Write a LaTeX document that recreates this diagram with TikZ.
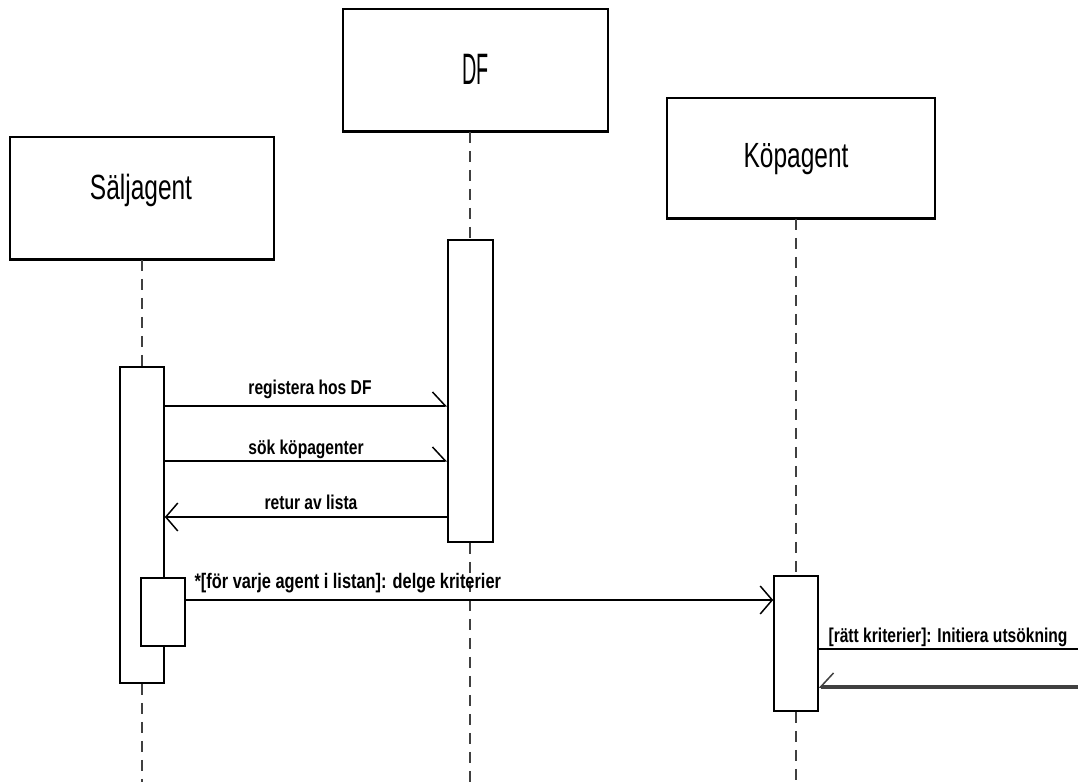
\documentclass[tikz,border=0pt]{standalone}
\usepackage{fontspec}
\setmainfont{Liberation Sans}
\newfontfamily\headfont{Liberation Sans}[FakeStretch=0.7]
\newfontfamily\dffont{Liberation Sans}[FakeStretch=0.45]
\newfontfamily\msgfont{Liberation Sans Bold}[FakeStretch=0.78]
\usetikzlibrary{arrows.meta,calc}

\begin{document}
\begin{tikzpicture}[x=1pt,y=1pt,
  objbox/.style={draw=black, line width=1.6pt, fill=white, inner sep=0pt},
  actbox/.style={draw=black, line width=1.6pt, fill=white, inner sep=0pt},
  lifeline/.style={draw=black!75, line width=2.2pt, dash pattern=on 11pt off 8pt},
  msg/.style={draw=black, line width=1.5pt},
  thickmsg/.style={draw=black!75, line width=4.5pt},
  headtext/.style={font=\headfont\fontsize{35}{40}\selectfont, inner sep=0pt},
  dftext/.style={font=\dffont\fontsize{44}{48}\selectfont, inner sep=0pt},
  msgtext/.style={font=\msgfont\fontsize{20}{24}\selectfont, inner sep=0pt},
  msgtextb/.style={font=\msgfont\fontsize{21}{24}\selectfont, inner sep=0pt},
  fulltip/.style={-{Straight Barb[length=12pt, width=28pt, line width=1.5pt]}},
  uptipE/.style={-{Straight Barb[left, length=13pt, width=28pt, line width=1.5pt]}},
  uptipW/.style={-{Straight Barb[right, length=13pt, width=28pt, line width=1.5pt]}}
]
\useasboundingbox (0,0) rectangle (1078,782);

% object headers
\node[objbox, minimum width=264pt, minimum height=122pt] (sa) at (142,584) {};
\node[objbox, minimum width=265pt, minimum height=122pt] (df) at (475.5,712) {};
\node[objbox, minimum width=268pt, minimum height=120pt] (kp) at (801,624) {};
\draw[line width=3pt] (sa.south west) -- (sa.south east);
\draw[line width=3pt] (df.south west) -- (df.south east);
\draw[line width=3pt] (kp.south west) -- (kp.south east);

\node[headtext, anchor=base] (sat) at ($(sa.center)+(-1,-2)$) {Säljagent};
\node[dftext, anchor=base] (dft) at ($(df.center)+(0,-15)$) {DF};
\node[headtext, anchor=base] (kpt) at ($(kp.center)+(-5,-10)$) {Köpagent};

% activation bars
\node[actbox, minimum width=44pt, minimum height=316pt] (saact) at (142,257) {};
\node[actbox, minimum width=45pt, minimum height=302pt] (dfact) at (470.5,391) {};
\node[actbox, minimum width=44pt, minimum height=135pt] (kpact) at (796,138.5) {};

% lifeline ends at the lower border
\coordinate (saend) at (142,0);
\coordinate (dfend) at (470,0);
\coordinate (kpend) at (796,0);

% lifelines
\draw[lifeline] (saact.north |- sa.south) -- (saact.north);
\draw[lifeline] (saact.south) -- (saend);
\draw[lifeline] (dfend |- df.south) -- (dfend |- dfact.north);
\draw[lifeline] (dfend |- dfact.south) -- (dfend);
\draw[lifeline] (kpend |- kp.south) -- (kpend |- kpact.north);
\draw[lifeline] (kpend |- kpact.south) -- (kpend);

% nested activation
\node[actbox, minimum width=44pt, minimum height=68pt] (sanest) at (163,170) {};

% messages
\draw[msg, uptipE] (saact.east |- 0,376) -- (dfact.west |- 0,376)
  node[msgtext, anchor=base, midway, xshift=4pt, yshift=11pt] (m1) {registera hos DF};
\draw[msg, uptipE] (saact.east |- 0,321) -- (dfact.west |- 0,321)
  node[msgtext, anchor=base, midway, yshift=6pt] (m2) {sök köpagenter};
\draw[msg, fulltip] (dfact.west |- 0,265) -- (saact.east |- 0,265)
  node[msgtext, anchor=base, midway, xshift=5pt, yshift=7pt] (m3) {retur av lista};
\draw[msg, fulltip] (sanest.east |- 0,182) -- (kpact.west |- 0,182)
  node[msgtextb, anchor=base west, pos=0, xshift=8pt, yshift=12pt] (m4) {*[för varje agent i listan]: delge kriterier};

\coordinate (out5) at (1078,133);
\coordinate (in6) at (1078,95);
\draw[msg] (kpact.east |- out5) -- (out5)
  node[msgtext, anchor=base west, pos=0, xshift=9pt, yshift=7pt] (m5) {[rätt kriterier]: Initiera utsökning};
\draw[thickmsg, uptipW] (in6) -- (kpact.east |- in6);
\end{tikzpicture}
\end{document}
